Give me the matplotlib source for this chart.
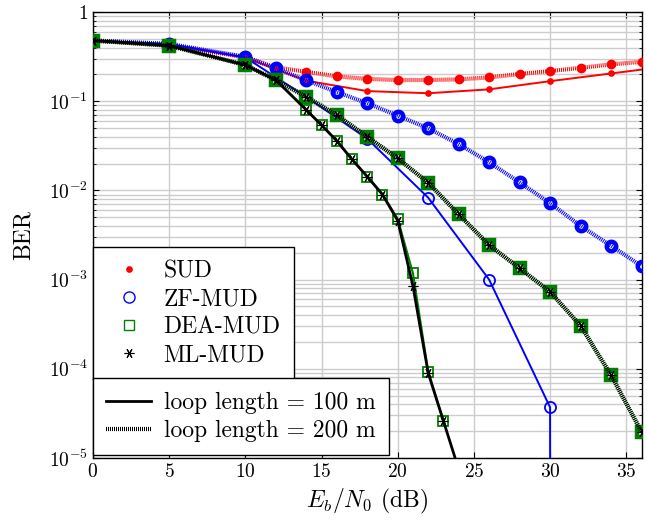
import numpy as np
import matplotlib
matplotlib.use("Agg")
import matplotlib.pyplot as plt
from matplotlib.lines import Line2D
from matplotlib.ticker import FixedLocator, FuncFormatter, LogLocator, NullFormatter

plt.rcParams['font.family'] = 'serif'
plt.rcParams['font.serif'] = ['cmr10']
plt.rcParams['mathtext.fontset'] = 'cm'
plt.rcParams['axes.formatter.use_mathtext'] = True
plt.rcParams['lines.scale_dashes'] = False

# ---- data ----
x_sud100 = [0, 5, 10, 14, 18, 22, 26, 30, 34, 38]
sud100 = [0.48, 0.43, 0.31, 0.17, 0.13, 0.123, 0.136, 0.168, 0.205, 0.25]

x_sud200 = [0, 5, 10, 12, 14, 16, 18, 20, 22, 24, 26, 28, 30, 32, 34, 36]
sud200 = [0.48, 0.43, 0.31, 0.24, 0.214, 0.19, 0.178, 0.173, 0.173, 0.176,
          0.185, 0.202, 0.218, 0.237, 0.259, 0.277]

x_zf100 = [0, 5, 10, 14, 18, 22, 26, 30, 34]
zf100 = [0.48, 0.44, 0.31, 0.112, 0.038, 0.0083, 1.0e-3, 3.7e-5, 0.0]

x_zf200 = [0, 5, 10, 12, 14, 16, 18, 20, 22, 24, 26, 28, 30, 32, 34, 36]
zf200 = [0.48, 0.44, 0.315, 0.234, 0.172, 0.127, 0.095, 0.069, 0.0497, 0.0331,
         0.0207, 0.0123, 0.0072, 0.0040, 0.0024, 0.00142]

x_dea100 = [0, 5, 10, 12, 14, 15, 16, 17, 18, 19, 20, 21, 22, 23]
dea100 = [0.48, 0.42, 0.255, 0.173, 0.080, 0.054, 0.036, 0.0223, 0.0143,
          0.0090, 0.0048, 0.00118, 9.3e-5, 2.6e-5]

x_ml100 = [0, 5, 10, 12, 14, 15, 16, 17, 18, 19, 20, 21, 22, 23, 24]
ml100 = [0.48, 0.42, 0.255, 0.173, 0.080, 0.054, 0.036, 0.0223, 0.0143,
         0.0090, 0.0046, 8.5e-4, 9.0e-5, 2.6e-5, 7.5e-6]

x_200 = [0, 5, 10, 12, 14, 16, 18, 20, 22, 24, 26, 28, 30, 32, 34, 36]
dea200 = [0.48, 0.42, 0.255, 0.173, 0.112, 0.070, 0.040, 0.0229, 0.0122,
          0.0054, 0.00244, 0.00134, 7.3e-4, 3.04e-4, 8.5e-5, 1.97e-5]
ml200 = [0.48, 0.42, 0.255, 0.173, 0.112, 0.070, 0.040, 0.0229, 0.0122,
         0.0054, 0.00244, 0.00134, 7.3e-4, 3.04e-4, 8.5e-5, 1.97e-5]

legend_methods = ['SUD', 'ZF-MUD', 'DEA-MUD', 'ML-MUD']
legend_loops = ['loop length = 100 m', 'loop length = 200 m']
x_ticks = [0, 5, 10, 15, 20, 25, 30, 35]

# ---- style ----
RED, BLUE, GREEN, BLACK = '#ff0000', '#0000ff', '#008000', '#000000'
DOT = (0, (0.72, 0.72))
ASTER = (6, 2, 90)

fig = plt.figure(figsize=(6.47, 5.25), dpi=100)
ax = fig.add_axes([0.1437, 0.1276, 0.8478, 0.8494])
ax.set_yscale('log')

# SUD
ax.plot(x_sud100, sud100, color=RED, lw=1.4, marker='o', ms=3.8, mfc=RED, mec=RED, zorder=3)
ax.plot(x_sud200, sud200, color=RED, lw=3.0, ls=DOT, marker='o', ms=5.5, mfc=RED, mec=RED, mew=1.5, zorder=3)
# ZF
ax.plot(x_zf100, zf100, color=BLUE, lw=1.4, marker='o', ms=8, mfc='none', mec=BLUE, mew=1.3, zorder=4)
ax.plot(x_zf200, zf200, color=BLUE, lw=3.0, ls=DOT, marker='o', ms=6.8, mfc='none', mec=BLUE, mew=3.2, zorder=4)
# DEA
ax.plot(x_dea100, dea100, color=GREEN, lw=1.5, marker='s', ms=6.8, mfc='none', mec=GREEN, mew=1.3, zorder=5)
ax.plot(x_200, dea200, color=GREEN, lw=3.0, ls=DOT, marker='s', ms=6.5, mfc='none', mec=GREEN, mew=3.2, zorder=5)
# ML
ax.plot(x_ml100, ml100, color=BLACK, lw=2.0, marker=ASTER, ms=7, mec=BLACK, mew=0.8, zorder=6)
ax.plot(x_200, ml200, color=BLACK, lw=3.0, ls=DOT, marker=ASTER, ms=7, mec=BLACK, mew=0.8, zorder=6)

ax.set_xlim(0, 36)
ax.set_ylim(1e-5, 1)
ax.xaxis.set_major_locator(FixedLocator(x_ticks))
ax.yaxis.set_major_locator(FixedLocator([1e-5, 1e-4, 1e-3, 1e-2, 1e-1, 1]))
ax.yaxis.set_minor_locator(LogLocator(base=10, subs=np.arange(2, 10), numticks=20))
ax.yaxis.set_minor_formatter(NullFormatter())

def yfmt(v, pos):
    e = int(round(np.log10(v)))
    if e == 0:
        return '1'
    return r'$10^{%d}$' % e
ax.yaxis.set_major_formatter(FuncFormatter(yfmt))

ax.grid(True, which='major', color='#cccccc', lw=1.0, zorder=0)
ax.grid(True, which='minor', axis='y', color='#cccccc', lw=1.0, zorder=0)
ax.set_axisbelow(True)
ax.tick_params(which='both', direction='in', top=True, right=True, labelsize=14)
ax.tick_params(which='major', length=4, width=0.8)
ax.tick_params(which='minor', length=2, width=0.6)
for s in ax.spines.values():
    s.set_linewidth(1.0)
    s.set_color('black')

ax.set_xlabel(r'$E_b/N_0$ (dB)', fontsize=17, labelpad=4)
ax.set_ylabel('BER', fontsize=17, labelpad=10)

# legends
h1 = [Line2D([], [], ls='none', marker='o', ms=3.8, color=RED),
      Line2D([], [], ls='none', marker='o', ms=8, mfc='none', mec=BLUE, mew=1.0),
      Line2D([], [], ls='none', marker='s', ms=7, mfc='none', mec=GREEN, mew=1.0),
      Line2D([], [], ls='none', marker=ASTER, ms=7, mec=BLACK, mew=0.8)]
h2 = [Line2D([], [], color=BLACK, lw=2.0),
      Line2D([], [], color=BLACK, lw=3.0, ls=DOT)]

common = dict(fontsize=17, frameon=True, fancybox=False, framealpha=1, edgecolor='black',
              handlelength=1.9, handletextpad=0.52, borderaxespad=0.0, labelspacing=0.25,
              borderpad=0.57)
leg1 = ax.legend(h1, legend_methods, loc='lower left', bbox_to_anchor=(0, 0.175), **common)
leg1.get_frame().set_linewidth(1.0)
ax.add_artist(leg1)
leg2 = ax.legend(h2, legend_loops, loc='lower left', bbox_to_anchor=(0, 0.006), **common)
leg2.get_frame().set_linewidth(1.0)
for leg in (leg1, leg2):
    leg.set_zorder(10)

fig.savefig('out.png', dpi=100)
